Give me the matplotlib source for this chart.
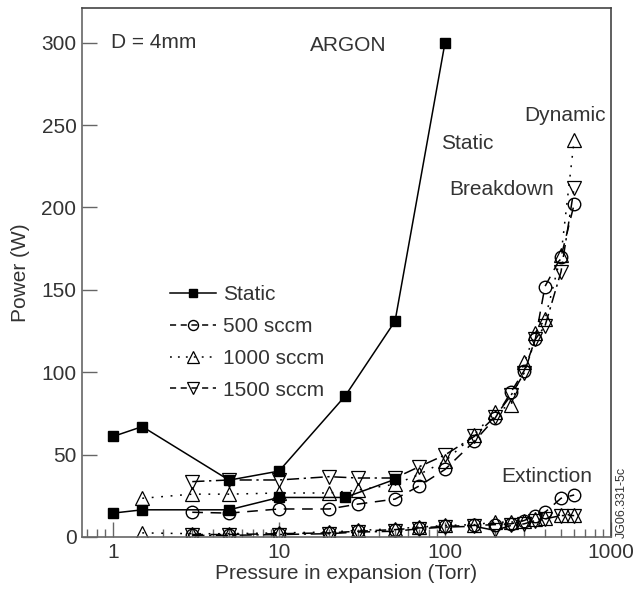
import matplotlib
matplotlib.use("Agg")
import matplotlib.pyplot as plt
from matplotlib.lines import Line2D
from matplotlib.ticker import LogLocator, NullFormatter, FixedLocator

plt.rcParams['font.family'] = ['Liberation Sans', 'DejaVu Sans']

# static breakdown / extinction
static_p = [1, 1.5, 5, 10, 25, 50, 100]
static_bd = [61, 67, 34.5, 40, 85.5, 131, 300]
static_ext_p = [1, 1.5, 5, 10, 25, 50]
static_ext = [14.5, 16.5, 16.5, 24, 24, 35]

# dynamic (flow) series
p_all = [1.5, 3, 5, 10, 20, 30, 50, 70, 100, 150, 200, 250, 300, 350, 400, 500, 600]
p_from3 = p_all[1:]

bd_500 = [15, 14.5, 17, 17, 20, 23, 31, 41, 58, 72, 88, 101, 120, 152, 170, 202]
bd_1000 = [23.5, 26, 26, 26.7, 26.7, 28.5, 32, 38, 46, 62, 76, 80, 106, 124, 132, 171, 241]
bd_1500 = [33.6, 34.6, 34.6, 36.6, 35.8, 35.8, 42.7, 49.8, 61, 73, 86, 99.6, 120, 128, 161, 212]

ext_500 = [1.5, 1.5, 2, 2.5, 3.5, 4.5, 5.5, 6.5, 7, 7.5, 8, 10, 13, 15, 23.5, 25.5]
ext_1000 = [2.5, 2, 2, 2.5, 3, 4, 5, 6, 7, 7.5, 9, 9, 10, 11, 11.5, 13.5, 13.5]
ext_1500 = [1, 1, 1.5, 2, 3, 3.5, 5, 6, 6.5, 4, 7, 8, 10, 11, 13, 13]

legend_labels = ['Static', '500 sccm', '1000 sccm', '1500 sccm']

txt = '#333333'
fs = 15

fig = plt.figure(figsize=(6.35, 5.92), dpi=100)
ax = fig.add_axes([82 / 635, 55 / 592, 529 / 635, 529 / 592])

lw = 1.1
sq = dict(color='black', lw=lw, marker='s', ms=7, mfc='black', mec='black', ls='-')
ci = dict(color='black', lw=lw, marker='o', ms=9, mfc='none', mec='black', ls=(0, (7, 5)))
up = dict(color='black', lw=lw, marker='^', ms=10, mfc='none', mec='black', mew=0.9, ls=(0, (1.2, 5)))
dn = dict(color='black', lw=lw, marker='v', ms=10, mfc='none', mec='black', mew=0.9, ls=(0, (8, 3, 1.5, 3)))

ax.plot(static_p, static_bd, **sq)
ax.plot(static_ext_p, static_ext, **sq)
ax.plot(p_from3, bd_500, **ci)
ax.plot(p_from3, ext_500, **ci)
ax.plot(p_all, bd_1000, **up)
ax.plot(p_all, ext_1000, **up)
ax.plot(p_from3, bd_1500, **dn)
ax.plot(p_from3, ext_1500, **dn)

ax.set_xscale('log')
ax.set_xlim(0.65, 1000)
ax.set_ylim(0, 321)
ax.yaxis.set_major_locator(FixedLocator([0, 50, 100, 150, 200, 250, 300]))
ax.xaxis.set_major_locator(FixedLocator([1, 10, 100, 1000]))
ax.xaxis.set_major_formatter(plt.FuncFormatter(lambda v, p: f'{v:g}'))
ax.xaxis.set_minor_locator(LogLocator(base=10, subs=range(2, 10)))
ax.xaxis.set_minor_formatter(NullFormatter())

ax.tick_params(axis='both', which='major', direction='in', length=11, width=1,
               color='#666666', labelsize=fs, labelcolor=txt, pad=4)
ax.tick_params(axis='x', which='minor', direction='in', length=6, width=1, color='#666666')
ax.tick_params(top=False, right=False, which='both')
for s in ['left', 'bottom']:
    ax.spines[s].set_color('#666666')
for s in ['top', 'right']:
    ax.spines[s].set_color('#444444')
for s in ax.spines.values():
    s.set_linewidth(1.2)

ax.set_xlabel('Pressure in expansion (Torr)', fontsize=fs, color=txt, labelpad=2)
ax.set_ylabel('Power (W)', fontsize=fs, color=txt, labelpad=8)

ax.text(0.97, 300, 'D = 4mm', fontsize=fs, color=txt, ha='left', va='center')
ax.text(15.4, 298, 'ARGON', fontsize=fs, color=txt, ha='left', va='center')
ax.text(94.6, 239, 'Static', fontsize=fs, color=txt, ha='left', va='center')
ax.text(299, 256, 'Dynamic', fontsize=fs, color=txt, ha='left', va='center')
ax.text(105.7, 211, 'Breakdown', fontsize=fs, color=txt, ha='left', va='center')
ax.text(217, 37, 'Extinction', fontsize=fs, color=txt, ha='left', va='center')

fig.text(622 / 635, 1 - 502 / 592, 'JG06.331-5c', rotation=90, fontsize=9,
         color=txt, ha='center', va='center')

handles = [
    Line2D([], [], **sq),
    Line2D([], [], **{**ci, 'ls': (0, (4, 3))}),
    Line2D([], [], **{**up, 'ls': (0, (1.2, 4))}),
    Line2D([], [], **{**dn, 'ls': (0, (4, 3))}),
]
for h in handles:
    h.set_markersize(h.get_markersize() * 0.8)
leg = ax.legend(handles, legend_labels, loc='upper left',
                bbox_to_anchor=(170 / 635, 1 - 285 / 592), bbox_transform=fig.transFigure,
                frameon=False, fontsize=fs, handlelength=2.2, handletextpad=0.35,
                labelspacing=0.62, borderpad=0, borderaxespad=0)
for t in leg.get_texts():
    t.set_color(txt)

fig.savefig('out.png', dpi=100)
